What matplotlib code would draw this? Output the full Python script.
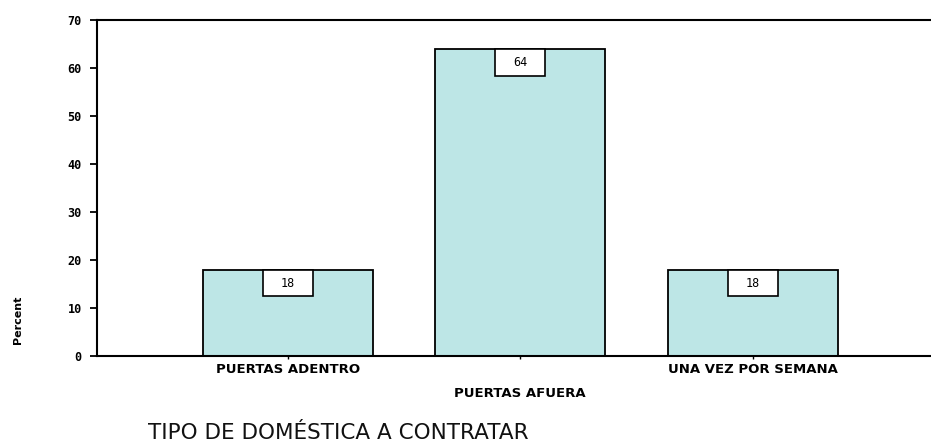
import matplotlib
matplotlib.use("Agg")
import matplotlib.pyplot as plt
from matplotlib.patches import Rectangle
import numpy as np

categorias = ['PUERTAS ADENTRO', 'PUERTAS AFUERA', 'UNA VEZ POR SEMANA']
porcentajes = [18, 64, 18]
etiquetas_y = [0, 10, 20, 30, 40, 50, 60, 70]

color_barra = '#BDE6E6'

fig = plt.figure(figsize=(9.31, 4.44), dpi=100)
ax = fig.add_axes([97/931, 88/444, 834/931, 336/444])

x = np.arange(len(categorias))
ancho = 0.73
ax.bar(x, porcentajes, width=ancho, color=color_barra, edgecolor='black', linewidth=1.3, zorder=2)

# cajitas con el valor arriba de cada barra
caja_w = 0.215
caja_h = 5.6
for xi, v in zip(x, porcentajes):
    ax.add_patch(Rectangle((xi - caja_w/2, v - caja_h), caja_w, caja_h,
                           facecolor='white', edgecolor='black', linewidth=1.2, zorder=3))
    ax.text(xi, v - caja_h/2, str(v), ha='center', va='center', fontsize=8.5,
            family='DejaVu Sans Mono', zorder=4)

ax.set_xlim(-0.82, 2.766)
ax.set_ylim(0, 70)
ax.set_yticks(etiquetas_y)
ax.set_yticklabels([str(t) for t in etiquetas_y], fontsize=8.5, fontweight='bold',
                   family='DejaVu Sans Mono')
ax.set_xticks(x)
ax.set_xticklabels(categorias, fontsize=9.5, fontweight='bold')
# la etiqueta del medio va en una segunda fila
ax.get_xticklabels()[1].set_y(-0.071)

ax.tick_params(axis='y', length=5, width=1.3, pad=6)
ax.tick_params(axis='x', length=2, width=1.0, pad=3)

for lado in ['left', 'top', 'bottom']:
    ax.spines[lado].set_linewidth(1.5)
ax.spines['right'].set_visible(False)

fig.text(18/931, 1 - 320/444, 'Percent', rotation=90, ha='center', va='center',
         fontsize=8, fontweight='bold')
fig.text(148/931, 1 - 433/444, 'TIPO DE DOMÉSTICA A CONTRATAR', ha='left', va='center',
         fontsize=15.5, color='#111111')

fig.savefig('out.png', dpi=100)
